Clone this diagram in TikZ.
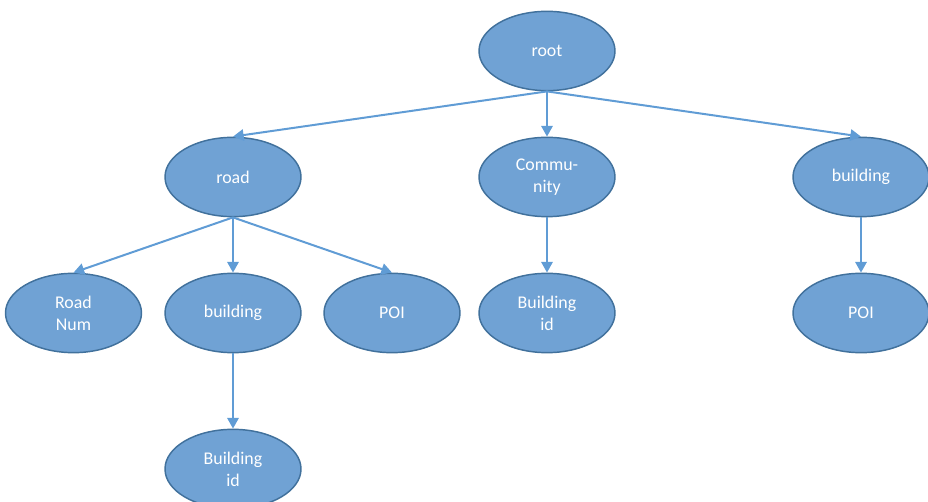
\documentclass[tikz,border=0pt]{standalone}
\usepackage{fontspec}
\setmainfont{Carlito}
\usetikzlibrary{arrows.meta,shapes.geometric}
\definecolor{nodefill}{RGB}{112,162,212}
\definecolor{nodeline}{RGB}{65,113,156}
\definecolor{linkblue}{RGB}{96,156,213}
\begin{document}
\begin{tikzpicture}[x=0.75pt,y=-0.75pt,
  treenode/.style={ellipse, draw=nodeline, fill=nodefill, line width=1.1pt,
    minimum width=102pt, minimum height=59.5pt, inner sep=0pt, align=center,
    text=white, font=\fontsize{13.4}{16.5}\selectfont},
  link/.style={draw=linkblue, line width=1.5pt,
    -{Triangle[length=8pt,width=8.5pt]}}]
\useasboundingbox (0,0) rectangle (928,502);
% level 0
\node[treenode] (root) at (547,51) {root};
% level 1
\node[treenode] (road) at (233,177) {road};
\node[treenode] (comm) at (547,177) {Commu-\\nity};
\node[treenode] (bldR) at (861,177) {building};
% level 2
\node[treenode] (rnum) at (73.5,313) {Road\\Num};
\node[treenode] (bldM) at (233,313) {building};
\node[treenode] (poiM) at (392,313) {POI};
\node[treenode] (bidC) at (547,313) {Building\\id};
\node[treenode] (poiR) at (861,313) {POI};
% level 3
\node[treenode] (bidB) at (233,469) {Building\\id};
% connectors
\draw[link] (root.south) -- (road.north);
\draw[link] (root.south) -- (comm.north);
\draw[link] (root.south) -- (bldR.north);
\draw[link] (road.south) -- (rnum.north);
\draw[link] (road.south) -- (bldM.north);
\draw[link] (road.south) -- (poiM.north);
\draw[link] (comm.south) -- (bidC.north);
\draw[link] (bldR.south) -- (poiR.north);
\draw[link] (bldM.south) -- (bidB.north);
\end{tikzpicture}
\end{document}
